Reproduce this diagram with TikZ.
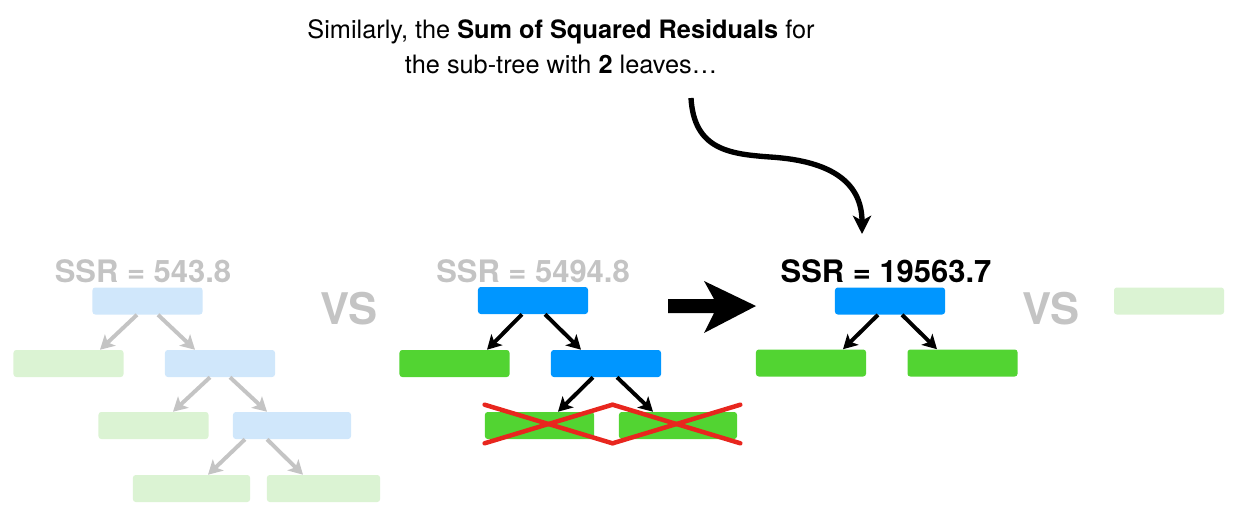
\documentclass[tikz,border=0pt]{standalone}
\usepackage{fontspec}
\setmainfont{TeX Gyre Heros}
\usetikzlibrary{arrows.meta,calc}

\definecolor{splitblue}{RGB}{0,150,255}
\definecolor{leafgreen}{RGB}{82,212,50}
\definecolor{fadedblue}{RGB}{208,231,251}
\definecolor{fadedgreen}{RGB}{219,243,211}
\definecolor{fadedgray}{RGB}{196,196,196}
\definecolor{crossred}{RGB}{232,38,30}

\tikzset{
  split/.style={rectangle, rounded corners=2pt, fill=splitblue, minimum width=2.75cm, minimum height=0.675cm, inner sep=0pt},
  leaf/.style={split, fill=leafgreen},
  splitfaded/.style={split, fill=fadedblue},
  leaffaded/.style={split, fill=fadedgreen},
  edge/.style={line width=2.8pt, -{Stealth[length=10pt,width=11pt,inset=2.5pt]}},
  edgefaded/.style={edge, draw=fadedgray},
  ssrlabel/.style={font=\bfseries\fontsize{22}{26}\selectfont, inner sep=0pt},
  vslabel/.style={font=\bfseries\fontsize{31}{34}\selectfont, text=fadedgray, inner sep=0pt},
  crossline/.style={crossred, line width=3.2pt, line cap=round},
}

\begin{document}
\begin{tikzpicture}[x=0.025cm, y=-0.025cm]
\useasboundingbox (0,0) rectangle (1241,526);

% caption
\node[align=center, font=\fontsize{18}{24.9}\selectfont, inner sep=0pt] (caption) at (561,47)
  {Similarly, the \textbf{Sum of Squared Residuals} for\\ the sub-tree with \textbf{2} leaves\ldots};

% left tree (faded)
\node[ssrlabel, text=fadedgray] (lssr) at (143,271) {SSR = 543.8};
\node[splitfaded] (lroot) at (147.5,301) {};
\node[leaffaded] (la) at (68.5,363.5) {};
\node[splitfaded] (lb) at (220,363.5) {};
\node[leaffaded] (lc) at (153.5,425.5) {};
\node[splitfaded, minimum width=2.95cm] (ld) at (292,425.5) {};
\node[leaffaded, minimum width=2.93cm] (le) at (191.5,488.5) {};
\node[leaffaded, minimum width=2.83cm] (lf) at (323.5,488.5) {};
\draw[edgefaded] ($(lroot.south)+(-10.5,0)$) -- ($(la.north)+(31.5,0)$);
\draw[edgefaded] ($(lroot.south)+(10.5,0)$) -- ($(lb.north)+(-25,0)$);
\draw[edgefaded] ($(lb.south)+(-10,0)$) -- ($(lc.north)+(19.5,0)$);
\draw[edgefaded] ($(lb.south)+(10,0)$) -- ($(ld.north)+(-25,0)$);
\draw[edgefaded] ($(ld.south)+(-47,0)$) -- ($(le.north)+(16.5,0)$);
\draw[edgefaded] ($(ld.south)+(-25,0)$) -- ($(lf.north)+(-20.5,0)$);

\node[vslabel] (vs1) at (349,309) {VS};

% middle tree
\node[ssrlabel, text=fadedgray] (mssr) at (533,271) {SSR = 5494.8};
\node[split] (mroot) at (533,300.5) {};
\node[leaf] (ma) at (454.5,363.5) {};
\node[split] (mb) at (606,363.5) {};
\node[leaf, minimum width=2.73cm] (mc) at (539.5,425.5) {};
\node[leaf, minimum width=2.95cm] (md) at (678,425.5) {};
\draw[edge] ($(mroot.south)+(-11,0)$) -- ($(ma.north)+(32.5,0)$);
\draw[edge] ($(mroot.south)+(12,0)$) -- ($(mb.north)+(-25,0)$);
\draw[edge] ($(mb.south)+(-13,0)$) -- ($(mc.north)+(18.5,0)$);
\draw[edge] ($(mb.south)+(11,0)$) -- ($(md.north)+(-25,0)$);

% pruned leaves
\draw[crossline] ($(mc.north west)+(0,-7)$) -- ($(mc.south east)+(18,4)$);
\draw[crossline] ($(mc.south west)+(0,4)$) -- ($(mc.north east)+(18,-7)$);
\draw[crossline] ($(md.north west)+(-6,-7)$) -- ($(md.south east)+(3,4)$);
\draw[crossline] ($(md.south west)+(-6,4)$) -- ($(md.north east)+(3,-7)$);

% big arrow
\fill (668,299) -- (714,299) -- (704,281) -- (756,306) -- (704,333) -- (714,313) -- (668,313) -- cycle;

% right tree
\node[ssrlabel] (rssr) at (886,271) {SSR = 19563.7};
\node[split] (rroot) at (890,301) {};
\node[leaf] (ra) at (811,363) {};
\node[leaf] (rb) at (962.5,363) {};
\draw[edge] ($(rroot.south)+(-12,0)$) -- ($(ra.north)+(32,0)$);
\draw[edge] ($(rroot.south)+(12,0)$) -- ($(rb.north)+(-25.5,0)$);

\node[vslabel] (vs2) at (1051,309) {VS};
\node[leaffaded] (stump) at (1169,301) {};

% pointer from caption
\coordinate (cstart) at (691,98);
\coordinate (ctip) at (862,234);
\draw[line width=3.8pt, -{Stealth[length=13pt,width=13pt,inset=3.5pt]}]
  (cstart) .. controls (694,150) and (730,154) .. (770,157)
  .. controls (835,161) and (862,185) .. (ctip);
\end{tikzpicture}
\end{document}
